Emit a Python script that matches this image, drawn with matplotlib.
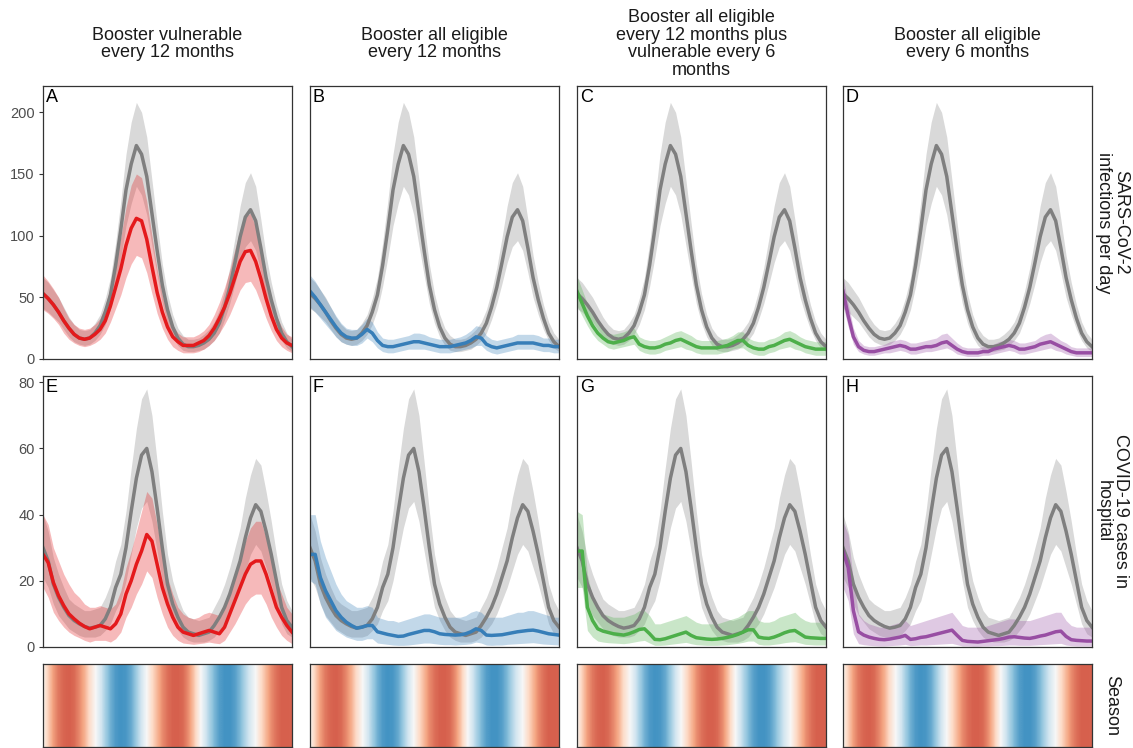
#!/usr/bin/env python
# -*- coding: utf8 -*-

'''Booster scenarios: daily infections, hospital occupancy and season,
   each scenario compared against the run without boosters (grey)'''

import matplotlib
# Force matplotlib to not use any Xwindows backend.
matplotlib.use('Agg')
import matplotlib.pyplot as plt
from matplotlib.colors import LinearSegmentedColormap
import numpy as np

# Simulation day of every stored value (every 15 days)
days = np.arange(0, 721, 15)

scenarios = ["Booster vulnerable\nevery 12 months",
             "Booster all eligible\nevery 12 months",
             "Booster all eligible\nevery 12 months plus\nvulnerable every 6\nmonths",
             "Booster all eligible\nevery 6 months"]
scenario_colors = ["#E41A1C", "#377EB8", "#4DAF4A", "#984EA3"]
row_labels = ["SARS-CoV-2\ninfections per day", "COVID-19 cases in\nhospital", "Season"]
panel_letters = [["A", "B", "C", "D"], ["E", "F", "G", "H"]]
infection_ticks = [0, 50, 100, 150, 200]
hospital_ticks = [0, 20, 40, 60, 80]

# No booster (reference) runs: median and interval
ref_inf = [53, 49, 44, 38, 31, 25, 20, 17, 16, 17, 21, 27, 38, 52, 76, 105, 137, 158, 173, 166,
           148, 118, 88, 60, 40, 26, 17, 12, 10, 10, 11, 13, 16, 21, 29, 42, 58, 78, 99, 115,
           121, 112, 90, 66, 48, 33, 21, 14, 10]
ref_inf_hi = [66, 62, 56, 50, 42, 34, 28, 24, 23, 24, 29, 36, 49, 66, 94, 128, 166, 192, 208, 200,
              180, 145, 110, 77, 53, 36, 25, 19, 16, 16, 17, 20, 24, 30, 40, 55, 74, 98, 124, 143,
              151, 140, 113, 84, 62, 44, 30, 21, 16]
ref_inf_lo = [41, 38, 34, 30, 24, 18, 14, 12, 11, 12, 15, 20, 28, 40, 59, 82, 108, 126, 140, 133,
              117, 92, 68, 45, 29, 18, 11, 7, 6, 6, 7, 8, 11, 15, 21, 32, 45, 61, 78, 91,
              96, 88, 70, 50, 36, 24, 15, 9, 6]
ref_hosp = [30, 26, 19, 15, 12, 9.5, 8, 7, 6.2, 5.7, 6, 6.5, 8.5, 12, 18, 22, 30, 41, 51, 58,
            60, 53, 42, 30, 19, 13, 9, 6, 4.5, 4, 3.5, 4, 4.5, 6.5, 9, 12, 16, 21, 26, 33,
            39, 43, 41, 35, 28, 20, 12, 8, 6]
ref_hosp_hi = [40, 35, 27, 22, 18, 14.5, 13, 12, 11, 11, 11.5, 12, 15, 19, 26, 31, 41, 54, 66, 75,
               78, 70, 56, 41, 28, 20, 15, 11, 9, 8.5, 8, 8.5, 9, 12, 15, 19, 24, 30, 36, 45,
               52, 57, 55, 47, 38, 28, 19, 14, 11]
ref_hosp_lo = [21, 18, 13, 9.5, 7.5, 5.5, 4.5, 3.5, 3, 3, 3, 3.5, 5, 7, 11, 14, 20, 28, 36, 42,
               44, 38, 29, 20, 12, 8, 5, 3, 2, 1.5, 1.5, 1.5, 2, 3, 5, 7, 10, 14, 18, 23,
               28, 31, 29, 24, 19, 13, 7, 4, 3]

# Booster vulnerable every 12 months
vul12_inf = [53, 49, 44, 38, 31, 25, 20, 17, 16, 17, 20, 24, 31, 43, 58, 73, 92, 106, 114, 112,
             97, 75, 54, 38, 26, 18, 14, 11, 11, 11, 13, 15, 19, 25, 33, 42, 53, 66, 79, 87,
             88, 79, 65, 49, 35, 24, 17, 13, 11]
vul12_inf_hi = [68, 63, 57, 50, 41, 33, 28, 25, 24, 25, 28, 33, 43, 59, 79, 99, 123, 141, 150, 147,
                128, 100, 73, 52, 37, 27, 21, 18, 18, 18, 20, 23, 28, 36, 46, 58, 72, 89, 105, 116,
                118, 107, 88, 67, 49, 35, 26, 20, 18]
vul12_inf_lo = [40, 37, 33, 28, 21, 16, 13, 11, 10, 11, 13, 16, 21, 30, 41, 52, 66, 77, 84, 82,
                70, 53, 37, 25, 16, 10, 7, 5, 5, 5, 6, 8, 11, 15, 21, 28, 36, 46, 56, 62,
                63, 56, 45, 33, 23, 15, 10, 7, 5]
vul12_hosp = [28, 25.5, 19.5, 15.5, 12.5, 10, 8.5, 7.2, 6.2, 5.5, 6, 6.5, 6, 5.5, 7, 10, 16, 20, 25, 29,
              34, 32, 25, 18, 13, 9, 6, 4.5, 4, 3.5, 4, 4.5, 5, 4.5, 4, 6, 10, 14, 18, 22,
              25, 26, 26, 22, 17, 12, 9, 6.5, 4.5]
vul12_hosp_hi = [40, 37, 30, 26, 22, 19, 16.5, 15, 13, 12, 12, 12.5, 12, 11.5, 13, 17, 24, 29, 35, 41,
                 47, 45, 37, 28, 21, 16, 12, 10, 9, 8.5, 9, 10, 10.5, 10, 9.5, 12, 17, 22, 27, 32,
                 36, 38, 38, 33, 27, 20, 16, 12, 10]
vul12_hosp_lo = [18, 15, 10.5, 8, 6, 4.5, 3.5, 2.8, 2, 1.5, 2, 2, 2, 1.5, 2.5, 4.5, 9, 12, 16, 19,
                 23, 21, 15, 10, 6, 3.5, 2, 1.2, 1, 0.8, 1, 1.2, 1.5, 1.2, 1, 2, 4.5, 7, 10, 13,
                 15, 16, 16, 13, 9, 6, 3.5, 2, 1]

# Booster all eligible every 12 months
all12_inf = [55, 50, 44, 38, 32, 26, 21, 18, 17, 17, 20, 24, 21, 15, 11, 10, 10, 11, 12, 13,
             14, 14, 13, 12, 11, 10, 10, 10, 11, 12, 13, 15, 18, 17, 12, 10, 9, 10, 11, 12,
             13, 13, 13, 13, 12, 11, 11, 10, 10]
all12_inf_hi = [68, 63, 56, 49, 42, 35, 29, 25, 24, 24, 28, 33, 30, 22, 17, 16, 16, 17, 18, 19,
                21, 21, 20, 18, 17, 16, 16, 16, 17, 18, 20, 23, 27, 26, 19, 16, 15, 16, 17, 18,
                20, 20, 20, 20, 19, 17, 17, 16, 16]
all12_inf_lo = [42, 38, 33, 28, 23, 18, 14, 12, 11, 11, 13, 17, 14, 9, 6, 5, 5, 6, 7, 8,
                8, 8, 8, 7, 6, 5, 5, 5, 6, 7, 8, 9, 11, 11, 7, 5, 4, 5, 6, 7,
                8, 8, 8, 8, 7, 6, 6, 5, 5]
all12_hosp = [28, 28, 21, 17, 14, 11, 9, 7.5, 6.5, 5.7, 6, 6.5, 6.5, 4.6, 4.2, 3.8, 3.5, 3.2, 3.3, 3.8,
              4.2, 4.6, 5, 5, 4.6, 4, 3.8, 3.7, 3.6, 3.7, 4, 4.6, 5.5, 5, 3.6, 3.5, 3.6, 3.7, 4, 4.3,
              4.6, 4.8, 5, 5.1, 4.8, 4.4, 4, 3.8, 3.6]
all12_hosp_hi = [40, 40, 32, 27, 23, 19, 16, 14, 13, 12, 12, 12.5, 12, 9, 8.5, 8, 8, 7.5, 8, 8.5,
                 9, 9.5, 10, 10, 9.5, 9, 9, 9, 9, 9, 9.5, 10.5, 11, 10.5, 9, 9, 9, 9, 9.5, 10,
                 10.5, 10.5, 11, 11, 10.5, 10, 9.5, 9, 9]
all12_hosp_lo = [20, 19, 13, 9, 7, 5, 4, 3, 2.5, 2, 2, 2.5, 2.5, 1.2, 1, 0.8, 0.6, 0.5, 0.5, 0.6,
                 0.8, 1, 1.2, 1.2, 1, 0.8, 0.7, 0.7, 0.6, 0.7, 0.8, 1, 1.5, 1.2, 0.6, 0.5, 0.6, 0.6, 0.8, 0.9,
                 1, 1.1, 1.2, 1.3, 1.1, 0.9, 0.8, 0.7, 0.6]

# Booster all eligible every 12 months plus vulnerable every 6 months
mix_inf = [55, 45, 35, 27, 21, 17, 14, 13, 14, 15, 17, 18, 12, 10, 9, 9, 10, 12, 13, 15,
           16, 14, 12, 10, 9, 9, 9, 9, 10, 11, 13, 15, 15, 11, 9, 8, 8, 10, 11, 13,
           15, 16, 14, 12, 10, 9, 8, 8, 8]
mix_inf_hi = [67, 56, 45, 36, 29, 24, 21, 20, 21, 22, 24, 25, 18, 16, 15, 15, 16, 18, 20, 22,
              23, 21, 19, 16, 15, 15, 15, 15, 16, 17, 19, 22, 22, 17, 15, 14, 14, 16, 17, 19,
              22, 23, 21, 18, 16, 15, 14, 14, 14]
mix_inf_lo = [43, 35, 27, 20, 15, 12, 9, 8, 9, 10, 11, 12, 7, 5, 4, 4, 5, 7, 8, 9,
              10, 8, 7, 5, 4, 4, 4, 4, 5, 6, 8, 9, 9, 6, 4, 3, 3, 5, 6, 8,
              9, 10, 8, 7, 5, 4, 3, 3, 3]
mix_hosp = [29, 29, 12, 8, 5.5, 4.8, 4.4, 4, 3.8, 3.6, 4, 4.6, 5.3, 5.5, 4, 2.3, 2.2, 2.5, 3, 3.5,
            4, 4.5, 3.5, 2.8, 2.6, 2.4, 2.3, 2.4, 2.6, 2.9, 3.3, 3.8, 4.5, 5.2, 5.2, 3, 2.7, 2.6, 3, 3.6,
            4.3, 4.8, 5, 4, 3, 2.8, 2.7, 2.6, 2.6]
mix_hosp_hi = [41, 40, 22, 15, 11, 10, 9.5, 9, 9, 9, 9.5, 10, 11, 11, 9.5, 7, 7, 7.5, 8, 8.5,
               9, 9.5, 8.5, 7.5, 7, 7, 7, 7, 7.5, 8, 8.5, 9, 10, 11, 11, 8, 7.5, 7.5, 8, 9,
               9.5, 10, 10.5, 9, 8, 7.5, 7.5, 7.5, 7.5]
mix_hosp_lo = [18, 18, 5, 3, 1.8, 1.5, 1.3, 1.2, 1.1, 1, 1.2, 1.5, 1.8, 2, 1.2, 0.5, 0.5, 0.6, 0.8, 1,
               1.2, 1.4, 1, 0.7, 0.6, 0.5, 0.5, 0.5, 0.6, 0.7, 0.9, 1.1, 1.4, 1.8, 1.8, 0.8, 0.6, 0.6, 0.8, 1,
               1.3, 1.5, 1.6, 1.2, 0.8, 0.7, 0.6, 0.6, 0.6]

# Booster all eligible every 6 months
all6_inf = [55, 35, 18, 10, 7, 6, 6, 7, 8, 9, 10, 11, 10, 8, 8, 9, 10, 10, 11, 13,
            14, 11, 8, 6, 5, 5, 5, 6, 6, 8, 9, 10, 11, 10, 8, 8, 9, 10, 12, 13,
            14, 12, 10, 8, 6, 5, 5, 5, 5]
all6_inf_hi = [67, 45, 25, 15, 11, 10, 10, 11, 12, 14, 15, 16, 15, 13, 13, 14, 15, 16, 17, 20,
               21, 17, 13, 10, 9, 9, 9, 10, 10, 12, 14, 15, 16, 15, 13, 13, 14, 15, 18, 20,
               21, 18, 15, 13, 10, 9, 9, 9, 9]
all6_inf_lo = [43, 26, 12, 6, 4, 3, 3, 4, 5, 5, 6, 7, 6, 4, 4, 5, 6, 6, 7, 8,
               9, 7, 4, 3, 2, 2, 2, 3, 3, 4, 5, 6, 7, 6, 4, 4, 5, 6, 7, 8,
               9, 7, 6, 4, 3, 2, 2, 2, 2]
all6_hosp = [29, 24, 11, 4.6, 3.6, 3, 2.6, 2.3, 2.2, 2.4, 2.7, 3, 3.5, 2.3, 2.5, 2.9, 3.1, 3.5, 3.9, 4.3,
             4.7, 5.1, 3.5, 2, 1.7, 1.6, 1.5, 1.7, 1.9, 2.1, 2.3, 2.6, 3, 3.1, 2.9, 2.7, 2.6, 2.9, 3.3, 3.6,
             4.1, 4.6, 4.8, 3.2, 2.2, 2, 1.9, 1.8, 1.8]
all6_hosp_hi = [38, 34, 20, 10, 8, 7, 6.5, 6, 6, 6.5, 7, 7.5, 8, 6.5, 7, 7.5, 8, 8.5, 9, 9.5,
                10, 10.5, 8.5, 6.5, 6, 6, 6, 6, 6.5, 7, 7.5, 8, 8.5, 8.5, 8, 8, 8, 8.5, 9, 9.5,
                10, 10.5, 10.5, 8, 6.5, 6, 6, 6, 6]
all6_hosp_lo = [18, 14, 4, 1, 0.7, 0.5, 0.4, 0.3, 0.3, 0.4, 0.5, 0.6, 0.8, 0.4, 0.5, 0.6, 0.6, 0.7, 0.8, 0.9,
                1, 1.1, 0.7, 0.3, 0.3, 0.2, 0.2, 0.3, 0.3, 0.4, 0.4, 0.5, 0.6, 0.6, 0.5, 0.5, 0.5, 0.6, 0.7, 0.8,
                0.9, 1, 1.1, 0.6, 0.4, 0.3, 0.3, 0.3, 0.3]

# Seasonal forcing (+1 = high transmission, -1 = low)
season = [0.05, 0.4, 0.7, 0.88, 0.97, 1.0, 0.95, 0.8, 0.6, 0.3, 0.05, -0.25, -0.55, -0.8, -0.95,
          -1.0, -0.97, -0.85, -0.6, -0.3, 0.0, 0.3, 0.55, 0.78, 0.92, 0.99, 1.0, 0.95, 0.78, 0.5,
          0.15, -0.2, -0.5, -0.75, -0.92, -1.0, -1.0, -0.92, -0.75, -0.5, -0.25, 0.0, 0.3, 0.55,
          0.78, 0.92, 1.0, 1.0, 0.98]

REF_LINE = "#7F7F7F"
REF_BAND = "#D9D9D9"
BORDER = "#333333"
FIG_W, FIG_H = 1133, 748


def px_box(left, top, width, height):
    '''Pixel box (from the top-left corner) to figure fractions'''
    return [left / FIG_W, 1 - (top + height) / FIG_H, width / FIG_W, height / FIG_H]


def style_axes(ax):
    '''Black-and-white panel: dark border, no grid, no x ticks'''
    for spine in ax.spines.values():
        spine.set_color(BORDER)
        spine.set_linewidth(0.9)
    ax.set_xlim(0, 720)
    ax.set_xticks([])
    ax.tick_params(axis='y', length=3, width=0.8, color=BORDER, pad=3,
                   labelsize=10.5, labelcolor='#4D4D4D')


def draw_panel(ax, mean, lo, hi, ref, ref_lo, ref_hi, color):
    '''Reference band and line in grey, scenario band and line in colour'''
    ax.fill_between(days, ref_lo, ref_hi, color=REF_BAND, lw=0)
    ax.fill_between(days, lo, hi, color=color, alpha=0.3, lw=0)
    ax.plot(days, ref, color=REF_LINE, lw=2.5)
    ax.plot(days, mean, color=color, lw=2.5)


def make_plot(output_file):
    plt.rcParams['font.family'] = ['Liberation Sans', 'DejaVu Sans']
    fig = plt.figure(figsize=(FIG_W / 100, FIG_H / 100), dpi=100)

    inf_runs = [(vul12_inf, vul12_inf_lo, vul12_inf_hi), (all12_inf, all12_inf_lo, all12_inf_hi),
                (mix_inf, mix_inf_lo, mix_inf_hi), (all6_inf, all6_inf_lo, all6_inf_hi)]
    hosp_runs = [(vul12_hosp, vul12_hosp_lo, vul12_hosp_hi), (all12_hosp, all12_hosp_lo, all12_hosp_hi),
                 (mix_hosp, mix_hosp_lo, mix_hosp_hi), (all6_hosp, all6_hosp_lo, all6_hosp_hi)]

    season_cmap = LinearSegmentedColormap.from_list(
        'season', ['#4393C3', '#92C5DE', '#D1E5F0', '#F7F7F7', '#FDDBC7', '#F4A582', '#D6604D'])

    col_left = [43, 310, 577, 843]
    col_width = 249
    for col, left in enumerate(col_left):
        # Infections
        ax = fig.add_axes(px_box(left, 86, col_width, 273))
        mean, lo, hi = inf_runs[col]
        draw_panel(ax, mean, lo, hi, ref_inf, ref_inf_lo, ref_inf_hi, scenario_colors[col])
        style_axes(ax)
        ax.set_ylim(0, 221.3)
        ax.set_yticks(infection_ticks)
        if col > 0:
            ax.set_yticks([])
        ax.text(0.012, 0.988, panel_letters[0][col], transform=ax.transAxes,
                ha='left', va='top', fontsize=13, color='black')

        # Hospital occupancy
        ax = fig.add_axes(px_box(left, 376, col_width, 271))
        mean, lo, hi = hosp_runs[col]
        draw_panel(ax, mean, lo, hi, ref_hosp, ref_hosp_lo, ref_hosp_hi, scenario_colors[col])
        style_axes(ax)
        ax.set_ylim(0, 81.9)
        ax.set_yticks(hospital_ticks)
        if col > 0:
            ax.set_yticks([])
        ax.text(0.012, 0.988, panel_letters[1][col], transform=ax.transAxes,
                ha='left', va='top', fontsize=13, color='black')

        # Season strip
        ax = fig.add_axes(px_box(left, 664, col_width, 83))
        ax.imshow(np.array(season)[np.newaxis, :], aspect='auto', cmap=season_cmap,
                  vmin=-1, vmax=1, extent=(-7.5, 727.5, 0, 1), interpolation='bilinear')
        style_axes(ax)
        ax.set_ylim(0, 1)
        ax.set_yticks([])

        # Scenario title above the column
        fig.text((left + col_width / 2) / FIG_W, 1 - 44 / FIG_H, scenarios[col],
                 ha='center', va='center', multialignment='center',
                 fontsize=13, color='#1A1A1A', linespacing=1.05)

    # Row labels on the right
    for label, y_px in zip(row_labels, [222.5, 511.5, 705.5]):
        fig.text(1112 / FIG_W, 1 - y_px / FIG_H, label, rotation=-90,
                 ha='center', va='center', multialignment='center',
                 fontsize=13, color='#1A1A1A', linespacing=1.05)

    fig.savefig(output_file, dpi=100)


def main():
    make_plot('out.png')


if __name__ == "__main__":
    main()
